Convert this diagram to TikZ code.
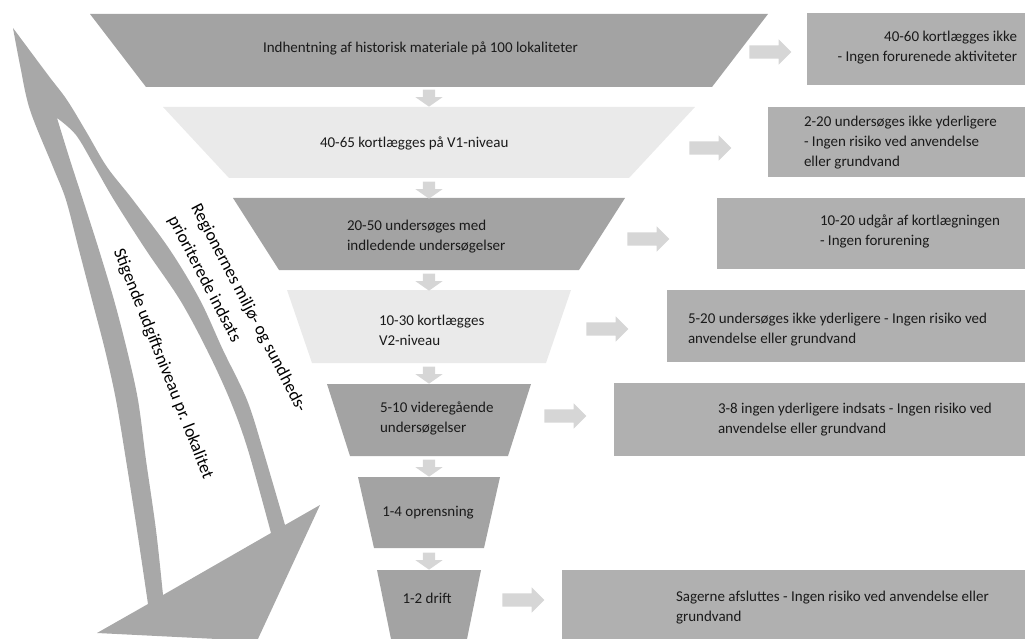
\documentclass[tikz,border=0pt]{standalone}
\usepackage{fontspec}
\setmainfont{Carlito}
\usetikzlibrary{shapes.arrows}
\definecolor{darkgrey}{HTML}{A3A3A3}
\definecolor{lightgrey}{HTML}{EAEAEA}
\definecolor{boxgrey}{HTML}{B0B0B0}
\definecolor{bandgrey}{HTML}{A8A8A8}
\definecolor{arrgrey}{HTML}{D6D6D6}
\definecolor{txtcol}{HTML}{1A1A1A}
\begin{document}
\begin{tikzpicture}[x=1pt,y=-1pt,
  every node/.style={inner sep=0pt,outer sep=0pt},
  funtext/.style={font=\fontsize{15}{20}\selectfont,text=txtcol,align=left},
  boxtext/.style={font=\fontsize{15}{20}\selectfont,text=txtcol},
  sidetext/.style={font=\fontsize{17.5}{26}\selectfont,text=black,align=left},
  downarr/.style={shape=single arrow,fill=arrgrey,rotate=-90,inner xsep=0pt,inner ysep=6pt,
     minimum height=17pt,single arrow head extend=7.5pt,single arrow tip angle=110},
  rightarr/.style={shape=single arrow,fill=arrgrey,inner xsep=0pt,inner ysep=6.5pt,
     minimum height=42pt,single arrow head extend=6pt,single arrow tip angle=90}]
\useasboundingbox (0,0) rectangle (1025,639);
\clip (0,0) rectangle (1025,639);

% funnel trapezoids
\fill[darkgrey]  (90,14) -- (768,14) -- (712,87) -- (146,87) -- cycle;
\fill[lightgrey] (163,107) -- (695,107) -- (629,178) -- (229,178) -- cycle;
\fill[darkgrey]  (233,198) -- (625,198) -- (579,270) -- (279,270) -- cycle;
\fill[lightgrey] (287,290) -- (571,290) -- (546,363) -- (312,363) -- cycle;
\fill[darkgrey]  (327,384) -- (531,384) -- (508,456) -- (350,456) -- cycle;
\fill[darkgrey]  (358,477) -- (500,477) -- (484,548) -- (374,548) -- cycle;
\fill[darkgrey]  (377,570) -- (481,570) -- (467,639) -- (391,639) -- cycle;

% funnel texts
\node[funtext,anchor=west] (l1) at (263,48) {Indhentning af historisk materiale på 100 lokaliteter};
\node[funtext,anchor=west] (l2) at (320,143) {40-65 kortlægges på V1-niveau};
\node[funtext,anchor=west] (l3) at (347,237) {20-50 undersøges med\\indledende undersøgelser};
\node[funtext,anchor=west] (l4) at (379,330) {10-30 kortlægges\\V2-niveau};
\node[funtext,anchor=west] (l5) at (380,418) {5-10 videregående\\undersøgelser};
\node[funtext] (l6) at (428,513) {1-4 oprensning};
\node[funtext] (l7) at (427,598) {1-2 drift};

% down arrows
\node[downarr] (d12) at (429,96) {};
\node[downarr] (d23) at (429,188) {};
\node[downarr] (d34) at (429,280) {};
\node[downarr] (d45) at (429,373) {};
\node[downarr] (d56) at (429,466) {};
\node[downarr] (d67) at (429,559) {};

% right boxes
\fill[boxgrey] (807,13) rectangle (1025,85);
\fill[boxgrey] (768,107) rectangle (1025,177);
\fill[boxgrey] (717,198) rectangle (1025,269);
\fill[boxgrey] (667,290) rectangle (1025,362);
\fill[boxgrey] (614,383) rectangle (1025,456);
\fill[boxgrey] (562,570) rectangle (1025,639);

\node[boxtext,align=right,anchor=east] (b1) at (1017,48) {40-60 kortlægges ikke\\- Ingen forurenede aktiviteter};
\node[boxtext,align=left,anchor=west] (b2) at (804,143) {2-20 undersøges ikke yderligere\\- Ingen risiko ved anvendelse\\eller grundvand};
\node[boxtext,align=left,anchor=west] (b3) at (820,231) {10-20 udgår af kortlægningen\\- Ingen forurening};
\node[boxtext,align=left,anchor=west] (b4) at (688,330) {5-20 undersøges ikke yderligere - Ingen risiko ved\\anvendelse eller grundvand};
\node[boxtext,align=left,anchor=west] (b5) at (718,420) {3-8 ingen yderligere indsats - Ingen risiko ved\\anvendelse eller grundvand};
\node[boxtext,align=left,anchor=west] (b7) at (676,608) {Sagerne afsluttes - Ingen risiko ved anvendelse eller\\grundvand};

% right arrows
\node[rightarr] (r1) at (767,52) {};
\node[rightarr] (r2) at (707,148) {};
\node[rightarr] (r3) at (645,239) {};
\node[rightarr] (r4) at (604,329) {};
\node[rightarr] (r5) at (562,416) {};
\node[rightarr] (r7) at (520,600) {};

% left curved double band with arrow head
\fill[bandgrey,even odd rule]
  (13,28) -- plot[smooth,tension=0.55] coordinates {(13,28) (20,65) (30,110) (53,167) (66,200) (79,250) (92,300) (105,350) (116,400) (126,460) (137,530) (148,604)}
  -- (97,633) -- (257,641) -- (320,505) -- (285,525)
  -- plot[smooth,tension=0.55] coordinates {(285,525) (263,450) (247,400) (223,350) (200,300) (170,250) (133,200) (107,167) (87,133) (67,100) (48,75) (13,28)}
  -- cycle
  (57,118) -- plot[smooth,tension=0.55] coordinates {(57,118) (70,160) (83,200) (99,250) (114,300) (127,350) (138,400) (146,460) (156,530) (163,595)}
  -- (271,533)
  -- plot[smooth,tension=0.55] coordinates {(271,533) (248,450) (230,400) (207,350) (180,300) (146,250) (114,200) (95,167) (76,135) (57,118)}
  -- cycle;

% side texts
\node[sidetext,rotate=-62.5] (reg) at (237,314) {Regionernes miljø- og sundheds-\\prioriterede indsats};
\node[sidetext,rotate=-68.5] (stig) at (163,364) {Stigende udgiftsniveau pr. lokalitet};
\end{tikzpicture}
\end{document}
